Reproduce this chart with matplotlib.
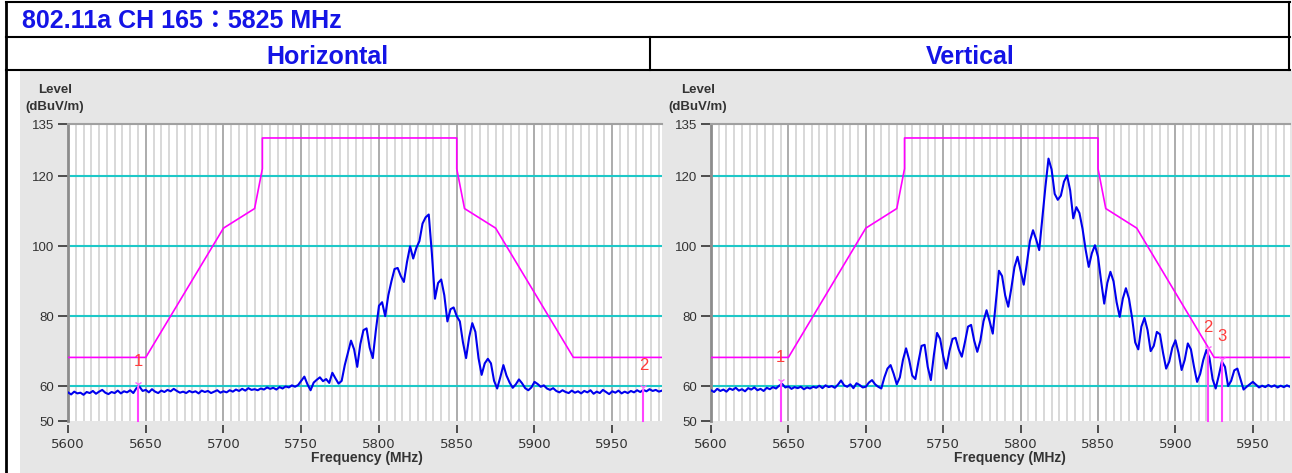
import numpy as np
import matplotlib
matplotlib.use("Agg")
import matplotlib.pyplot as plt
from matplotlib.patches import Rectangle

# -------------------------
# Data
# -------------------------

title = "802.11a CH 165：5825 MHz"
panel_titles = ["Horizontal", "Vertical"]

x_ticks = [5600, 5650, 5700, 5750, 5800, 5850, 5900, 5950]
y_ticks = [50, 60, 80, 100, 120, 135]
y_lines = [60, 80, 100, 120]

# trace samples every 2 MHz starting at 5600 MHz
level_h = [
    58.2, 57.6, 58.4, 57.9, 58.1, 57.5, 58.3, 58.0, 58.6, 57.8,
    58.4, 58.9, 58.1, 57.7, 58.3, 58.0, 58.7, 57.9, 58.5, 58.2,
    58.8, 58.0, 59.4, 59.8, 58.6, 58.9, 58.2, 59.1, 58.4, 58.0,
    58.7, 58.3, 58.9, 58.5, 59.2, 58.6, 58.1, 58.4, 58.0, 58.6,
    58.2, 58.5, 57.9, 58.7, 58.3, 58.6, 58.0, 58.4, 58.8, 58.1,
    58.5, 58.2, 58.8, 58.4, 59.0, 58.6, 59.2, 58.7, 59.4, 58.9,
    59.1, 58.8, 59.3, 59.0, 59.6, 59.2, 59.5, 59.0, 59.7, 59.3,
    59.9, 59.6, 60.2, 59.8, 60.3, 61.5, 62.7, 60.5, 58.8, 61.0,
    61.8, 62.5, 61.4, 62.0, 60.9, 63.8, 62.2, 60.7, 61.5, 66.0,
    69.5, 73.0, 70.5, 65.5, 72.0, 76.0, 76.5, 71.0, 68.0, 76.0,
    83.0, 84.0, 80.0, 86.0, 90.0, 93.5, 93.8, 91.5, 89.8, 95.5,
    100.0, 96.5, 99.5, 101.5, 106.5, 108.3, 109.1, 98.0, 85.0, 89.5,
    90.5, 86.0, 78.5, 82.0, 82.5, 80.0, 78.5, 72.5, 68.0, 74.0,
    78.0, 75.5, 68.0, 63.2, 66.5, 67.8, 66.5, 61.5, 59.3, 62.5,
    66.0, 63.0, 61.0, 59.5, 60.5, 61.9, 60.8, 59.4, 58.8, 59.6,
    61.2, 60.6, 59.8, 60.2, 59.3, 58.9, 59.4, 58.6, 58.2, 58.8,
    58.3, 58.0, 58.7, 58.1, 58.5, 57.9, 58.6, 58.2, 58.8, 57.8,
    58.4, 58.0, 58.9, 58.3, 57.7, 58.5, 58.1, 58.7, 57.9, 58.4,
    58.0, 58.6, 58.2, 58.8, 58.3, 58.9, 58.5, 59.1, 58.6, 58.9,
    58.4, 58.7,
]

level_v = [
    58.8, 58.3, 59.2, 58.6, 59.0, 58.4, 59.3, 58.9, 59.5, 58.7,
    59.1, 58.5, 59.4, 59.0, 59.6, 58.8, 59.2, 58.6, 59.5, 59.1,
    59.7, 59.3, 60.1, 60.6, 59.6, 59.9, 59.2, 59.7, 59.4, 59.8,
    59.1, 59.6, 59.3, 59.8, 59.5, 60.1, 59.4, 60.2, 59.7, 60.0,
    59.5, 60.4, 61.6, 60.2, 59.8, 60.5, 59.4, 60.8, 60.3, 59.6,
    59.8, 61.0, 61.7, 60.5, 59.8, 59.3, 62.5, 65.0, 66.0, 63.5,
    60.5, 62.5, 67.5, 70.8, 67.5, 63.0, 62.0, 67.0, 71.5, 71.8,
    65.5, 61.7, 69.0, 75.2, 73.5, 68.5, 65.0, 70.0, 73.5, 73.8,
    70.5, 68.4, 72.5, 77.0, 77.5, 73.0, 69.8, 73.0, 78.5, 81.7,
    78.5, 75.0, 84.0, 93.0, 91.5, 86.0, 82.7, 88.0, 94.0, 97.0,
    93.0, 89.0, 95.0, 101.5, 104.6, 102.0, 98.9, 108.0, 117.0, 125.1,
    122.0, 115.0, 113.3, 114.5, 118.5, 120.3, 116.0, 108.0, 111.2, 109.5,
    105.0, 99.0, 94.1, 98.0, 100.3, 97.0, 90.0, 83.6, 89.5, 92.7,
    90.0, 84.0, 79.8, 85.0, 88.0, 85.0, 79.5, 72.5, 70.5, 77.0,
    79.5, 76.0, 70.0, 71.5, 75.5, 74.8, 69.5, 65.0, 67.0, 71.0,
    73.1, 69.5, 64.6, 67.5, 72.2, 70.5, 65.5, 61.2, 63.5, 67.5,
    70.3, 68.0, 62.0, 59.3, 63.0, 67.0, 65.5, 60.0, 61.5, 64.5,
    65.0, 62.0, 59.0, 59.8, 60.5, 61.2, 60.4, 59.6, 60.1, 59.7,
    60.3, 59.8, 60.2, 59.6, 60.1, 59.7, 60.2, 59.8, 60.0, 59.7,
    60.1,
]

# limit mask
mask_f = [5600, 5650, 5700, 5720, 5725, 5725, 5850, 5850, 5855, 5875, 5925, 5990]
mask_l = [68.2, 68.2, 105.2, 110.8, 122.2, 131.0, 131.0, 122.2, 110.8, 105.2, 68.2, 68.2]

# markers: (label, freq, level at trace, label level)
markers_h = [("1", 5645, 59.8, 67.0), ("2", 5970, 58.9, 66.0)]
markers_v = [("1", 5645, 60.6, 68.1), ("2", 5921, 70.1, 76.7), ("3", 5930, 67.0, 74.1)]

# -------------------------
# Figure
# -------------------------

W, H = 1292, 473
fig = plt.figure(figsize=(W / 100, H / 100), dpi=100)

bg = fig.add_axes([0, 0, 1, 1])
bg.set_xlim(0, W)
bg.set_ylim(H, 0)
bg.axis("off")
bg.add_patch(Rectangle((20, 71), 643, 402, color="#e6e6e6", lw=0))
bg.add_patch(Rectangle((663, 71), 629, 402, color="#e6e6e6", lw=0))
for y in (2, 37, 70):
    bg.plot([6, 1290], [y, y], color="black", lw=1.5)
bg.plot([6, 6], [2, 473], color="black", lw=2)
bg.plot([1289, 1289], [2, 70], color="black", lw=1.5)
bg.plot([650, 650], [37, 70], color="black", lw=1.5)

head_font = ["Liberation Sans", "Noto Sans CJK TC", "DejaVu Sans"]
blue_txt = "#1414e6"
fig.text(22 / W, 1 - 28.5 / H, title, family=head_font, weight="bold",
         fontsize=18, color=blue_txt, va="baseline", ha="left")
fig.text(327 / W, 1 - 64.5 / H, panel_titles[0], family=head_font, weight="bold",
         fontsize=18, color=blue_txt, va="baseline", ha="center")
fig.text(970 / W, 1 - 64.5 / H, panel_titles[1], family=head_font, weight="bold",
         fontsize=18, color=blue_txt, va="baseline", ha="center")


def draw_panel(rect, level, markers, xmax, lab_x, freq_x):
    ax = fig.add_axes(rect)
    freq = 5600 + 2 * np.arange(len(level))

    ax.set_xlim(5600, xmax)
    ax.set_ylim(50, 135)
    ax.set_xticks(x_ticks)
    ax.set_xticks(np.arange(5605, xmax, 5), minor=True)
    ax.set_yticks(y_ticks)
    ax.tick_params(axis="x", which="minor", length=0)
    ax.tick_params(axis="both", which="major", labelsize=9.5, colors="#333333",
                   length=6, width=1.2, pad=3)
    ax.tick_params(axis="y", length=7)
    for lab in ax.get_xticklabels() + ax.get_yticklabels():
        lab.set_family("Liberation Sans")

    ax.grid(which="minor", axis="x", color="#d6d6d6", lw=1.3)
    ax.grid(which="major", axis="x", color="#a6a6a6", lw=1.3)
    ax.set_axisbelow(True)
    for y in y_lines:
        ax.axhline(y, color="#1ec8c8", lw=1.5, zorder=1.5)

    ax.spines["right"].set_visible(False)
    ax.spines["bottom"].set_position(("outward", 3))
    ax.spines["bottom"].set_visible(False)
    ax.spines["left"].set_color("#8c8c8c")
    ax.spines["left"].set_linewidth(2)
    ax.spines["top"].set_color("#a0a0a0")
    ax.spines["top"].set_linewidth(1.5)

    ax.plot(mask_f, mask_l, color="#ff00ff", lw=1.2, zorder=3)
    ax.plot(freq, level, color="#0000ee", lw=1.5, zorder=4)

    for name, f, lv, ly in markers:
        ax.plot([f, f], [50, lv], color="#ff44ff", lw=1.5, zorder=5, clip_on=False)
        ax.plot(f, lv + 0.8, marker="1", color="#ff66ff", ms=6, zorder=6)
        ax.text(f, ly, name, color="#ff3b3b", fontsize=12, ha="center", va="center",
                family="Liberation Sans", zorder=6)

    fig.text(lab_x / W, 1 - 90 / H, "Level", family="Liberation Sans", weight="bold",
             fontsize=9.5, color="#333333", ha="center", va="center")
    fig.text(lab_x / W, 1 - 107 / H, "(dBuV/m)", family="Liberation Sans", weight="bold",
             fontsize=9.5, color="#333333", ha="center", va="center")
    fig.text(freq_x / W, 1 - 458 / H, "Frequency (MHz)", family="Liberation Sans",
             weight="bold", fontsize=10, color="#333333", ha="center", va="center")
    return ax


draw_panel([68 / W, 52 / H, 594 / W, 297 / H], level_h, markers_h, 5982, 55, 367)
draw_panel([711 / W, 52 / H, 579 / W, 297 / H], level_v, markers_v, 5974, 698, 1010)

fig.savefig("out.png", dpi=100)
